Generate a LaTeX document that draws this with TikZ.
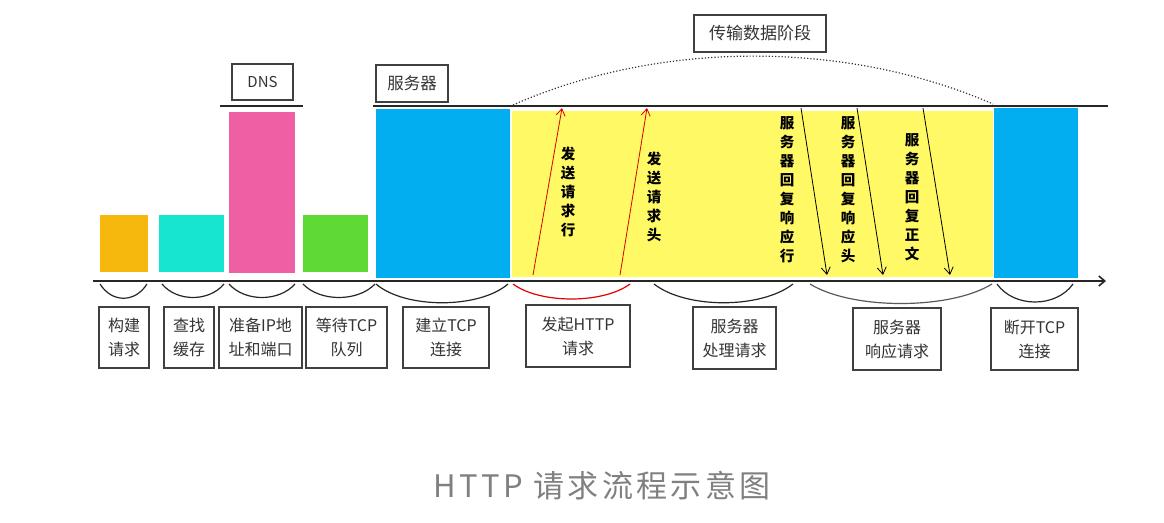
\documentclass[tikz,border=0pt]{standalone}
\usepackage{fontspec}
\setmainfont{Noto Sans CJK SC}
\newfontfamily\capfont[LetterSpace=11]{Noto Sans CJK SC}
\usetikzlibrary{arrows.meta}
\definecolor{cOrange}{HTML}{F6B80C}
\definecolor{cCyan}{HTML}{17E5CF}
\definecolor{cPink}{HTML}{EE5FA3}
\definecolor{cGreen}{HTML}{5FD936}
\definecolor{cBlue}{HTML}{02AEEF}
\definecolor{cYellow}{HTML}{FFF966}
\definecolor{cText}{HTML}{333333}
\definecolor{cCap}{HTML}{808080}
\begin{document}
\begin{tikzpicture}[x=1pt,y=-1pt,
  bar/.style={anchor=north west, inner sep=0pt, draw=none},
  lbl/.style={draw=black!75, line width=1.2pt, inner sep=0pt, text=cText, align=center,
    font=\fontsize{16}{24}\selectfont},
  vtxt/.style={align=center, inner sep=0pt, text=black, font=\bfseries\fontsize{14.5}{19}\selectfont},
  brace/.style={line width=1.2pt, draw=black!85},
  msg/.style={line width=0.8pt, -{Straight Barb[length=7pt,width=9pt]}},
]
\useasboundingbox (0,0) rectangle (1164,522);
% bars
\node[bar, fill=cOrange, minimum width=48pt, minimum height=57pt] (b1) at (100,215) {};
\node[bar, fill=cCyan, minimum width=65pt, minimum height=57pt] (b2) at (159,215) {};
\node[bar, fill=cPink, minimum width=66pt, minimum height=161pt] (b3) at (229,112) {};
\node[bar, fill=cGreen, minimum width=65pt, minimum height=57pt] (b4) at (303,215) {};
\node[bar, fill=cBlue, minimum width=134pt, minimum height=169pt] (b5) at (376,109) {};
\node[bar, fill=cYellow, minimum width=481pt, minimum height=166pt] (b6) at (512,111) {};
\node[bar, fill=cBlue, minimum width=84pt, minimum height=170pt] (b7) at (994,108) {};
% lines
\coordinate (dnsL) at (220,106); \coordinate (dnsR) at (303,106);
\draw[line width=1.8pt, black!85] (dnsL) -- (dnsR);
\coordinate (topL) at (373,106); \coordinate (topR) at (1108,106);
\draw[line width=1.8pt, black!85] (topL) -- (topR);
\coordinate (axL) at (93,281); \coordinate (axR) at (1106,281);
\draw[line width=1.6pt, black!85, -{Straight Barb[length=6pt,width=10pt]}] (axL) -- (axR);
% top labels
\node[lbl, minimum width=61pt, minimum height=36pt, font=\fontsize{15}{18}\selectfont] (dns) at (262.5,82) {DNS};
\node[lbl, minimum width=72pt, minimum height=37pt, font=\fontsize{16.5}{20}\selectfont] (srv) at (412,83.5) {服务器};
\node[lbl, minimum width=132pt, minimum height=37pt, font=\fontsize{17}{20}\selectfont] (phase) at (760,33.5) {传输数据阶段};
% dotted arc
\coordinate (arcL) at (513,105); \coordinate (arcR) at (993,104);
\draw[dotted, line width=1.2pt, black!80] (arcL) .. controls (660,40) and (846,40) .. (arcR);
% brackets
\draw[brace] (100,284) .. controls (112,303) and (135,303) .. (147,284);
\draw[brace] (162,284) .. controls (177,302) and (209,302) .. (224,284);
\draw[brace] (229,284) .. controls (245,302) and (279,302) .. (295,284);
\draw[brace] (303,284) .. controls (320,302) and (358,302) .. (375,284);
\draw[brace] (376,284) .. controls (405,309) and (479,309) .. (508,284);
\draw[brace, draw=red!90!black] (513,284) .. controls (540,304) and (603,304) .. (630,284);
\draw[brace] (654,284) .. controls (686,309) and (761,309) .. (793,284);
\draw[brace, draw=black!65] (810,284) .. controls (852,310) and (950,310) .. (992,284);
\draw[brace] (997,284) .. controls (1014,308) and (1056,308) .. (1073,284);
% bottom labels
\node[lbl, minimum width=50pt, minimum height=61pt] (l1) at (124,337.5) {构建\\请求};
\node[lbl, minimum width=50pt, minimum height=61pt] (l2) at (189,337.5) {查找\\缓存};
\node[lbl, minimum width=83pt, minimum height=61pt] (l3) at (260.5,337.5) {准备IP地\\址和端口};
\node[lbl, minimum width=81pt, minimum height=61pt] (l4) at (346.5,337.5) {等待TCP\\队列};
\node[lbl, minimum width=86pt, minimum height=61pt] (l5) at (446,337.5) {建立TCP\\连接};
\node[lbl, minimum width=104pt, minimum height=62pt] (l6) at (578,336) {发起HTTP\\请求};
\node[lbl, minimum width=83pt, minimum height=62pt] (l7) at (734.5,338) {服务器\\处理请求};
\node[lbl, minimum width=88pt, minimum height=62pt] (l8) at (897,339) {服务器\\响应请求};
\node[lbl, minimum width=87pt, minimum height=62pt] (l9) at (1034.5,339) {断开TCP\\连接};
% messages
\coordinate (r1s) at (533,275); \coordinate (r1e) at (562,108);
\coordinate (r2s) at (620,275); \coordinate (r2e) at (647,108);
\draw[msg, red!85!black] (r1s) -- (r1e);
\draw[msg, red!85!black] (r2s) -- (r2e);
\coordinate (k1s) at (801,108); \coordinate (k1e) at (827,275);
\coordinate (k2s) at (857,108); \coordinate (k2e) at (883,275);
\coordinate (k3s) at (923,108); \coordinate (k3e) at (950,275);
\draw[msg, black] (k1s) -- (k1e);
\draw[msg, black] (k2s) -- (k2e);
\draw[msg, black] (k3s) -- (k3e);
\node[vtxt] (t1) at (568,192) {发\\送\\请\\求\\行};
\node[vtxt] (t2) at (654,197) {发\\送\\请\\求\\头};
\node[vtxt] (t3) at (787,190) {服\\务\\器\\回\\复\\响\\应\\行};
\node[vtxt] (t4) at (848,190) {服\\务\\器\\回\\复\\响\\应\\头};
\node[vtxt] (t5) at (912,197.5) {服\\务\\器\\回\\复\\正\\文};
% caption
\node[text=cCap, inner sep=0pt, font=\capfont\fontsize{31}{34}\selectfont] (cap) at (602,486) {HTTP 请求流程示意图};
\end{tikzpicture}
\end{document}
